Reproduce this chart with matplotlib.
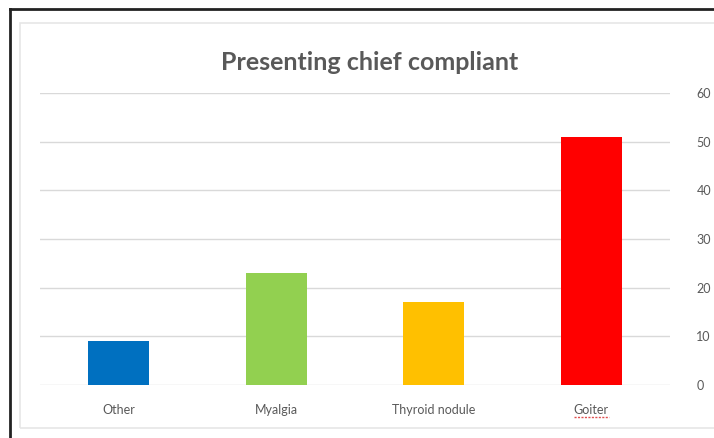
import matplotlib
matplotlib.use("Agg")
import matplotlib.pyplot as plt
from matplotlib.lines import Line2D

# complaint categories and patient counts
categories = ["Other", "Myalgia", "Thyroid nodule", "Goiter"]
counts = [9, 23, 17, 51]
colors = ["#0070C0", "#92D050", "#FFC000", "#FF0000"]
yticks = [0, 10, 20, 30, 40, 50, 60]

W, H = 714, 438
fig = plt.figure(figsize=(W / 100, H / 100), dpi=100)
plt.rcParams['font.family'] = ['Lato', 'DejaVu Sans']

def fx(px):
    return px / W

def fy(py):
    return 1 - py / H

# outer black frame (left and top edges) and the light chart-area border
fig.add_artist(Line2D([fx(10), fx(10)], [fy(9), 0], color="#222222", lw=2))
fig.add_artist(Line2D([fx(10), 1], [fy(9), fy(9)], color="#222222", lw=2))
fig.add_artist(plt.Rectangle((fx(20), fy(428)), 1.0, fy(23) - fy(428),
                             transform=fig.transFigure, fill=False,
                             edgecolor="#e6e6e6", lw=1.2))

ax = fig.add_axes([fx(40), fy(385), fx(670) - fx(40), fy(93) - fy(385)])
x = range(len(categories))
ax.bar(x, counts, width=0.39, color=colors, zorder=3)

ax.set_xlim(-0.5, len(categories) - 0.5)
ax.set_ylim(0, 60)
ax.set_yticks(yticks)
ax.yaxis.tick_right()
ax.grid(axis="y", color="#d9d9d9", lw=1, zorder=0)
ax.set_xticks(list(x))
ax.set_xticklabels(categories)
ax.tick_params(axis="both", length=0, colors="#595959", labelsize=9)
ax.tick_params(axis="y", pad=19)
ax.tick_params(axis="x", pad=14)
for s in ax.spines.values():
    s.set_visible(False)

# spell-check squiggle under the last label
lbl = ax.get_xticklabels()[-1]
fig.canvas.draw()
bb = lbl.get_window_extent()
fig.add_artist(Line2D([bb.x0 / W, bb.x1 / W], [(bb.y0 - 1) / H] * 2,
                      color="#e05050", lw=1, ls=(0, (1.5, 1))))

fig.text(fx(370), fy(62), "Presenting chief compliant", ha="center", va="center",
         fontsize=18, fontweight="bold", color="#595959")

fig.savefig("out.png", dpi=100)
